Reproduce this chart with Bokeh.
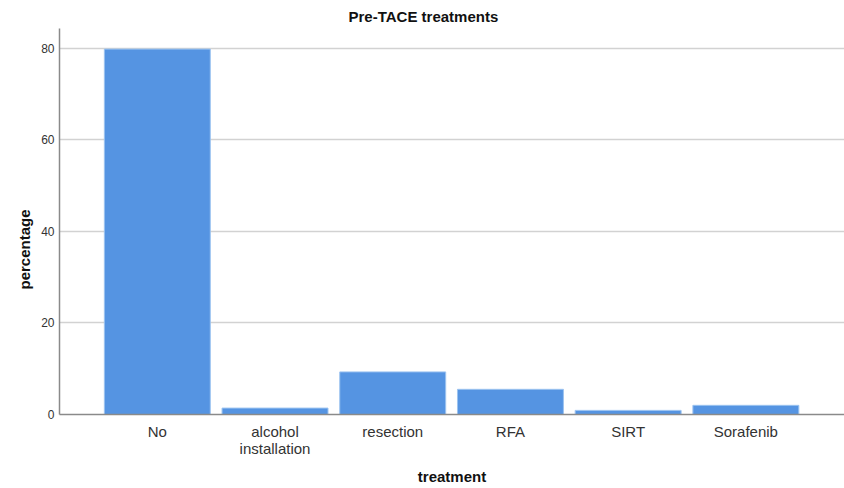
from bokeh.plotting import figure
from bokeh.models import Range1d, FixedTicker, Title
from bokeh.embed import file_html
from bokeh.resources import INLINE

# ---- data ----
categories = ["No", "alcohol installation", "resection", "RFA", "SIRT", "Sorafenib"]
tick_labels = ["No", "alcohol\ninstallation", "resection", "RFA", "SIRT", "Sorafenib"]
percentages = [79.8, 1.4, 9.3, 5.5, 0.9, 2.0]
y_ticks = [0, 20, 40, 60, 80]

xs = list(range(len(categories)))

FONT = "Liberation Sans"
BAR = "#5594E2"

p = figure(width=844, height=488, output_backend="svg", toolbar_location=None,
           x_range=Range1d(-0.831, 5.838), y_range=Range1d(0, 84.3),
           min_border_left=59, min_border_right=0, min_border_top=28,
           min_border_bottom=74)
p.outline_line_color = None
p.background_fill_color = "white"
p.border_fill_color = "white"

p.vbar(x=xs, top=percentages, width=0.90, bottom=0,
       fill_color=BAR, line_color="#9cc3f0", line_width=1)

# grid
p.xgrid.visible = False
p.ygrid.ticker = FixedTicker(ticks=y_ticks)
p.ygrid.grid_line_color = "#d2d2d2"
p.ygrid.grid_line_width = 1.5

# x axis
xa = p.xaxis[0]
xa.ticker = FixedTicker(ticks=xs)
xa.major_label_overrides = {i: t for i, t in zip(xs, tick_labels)}
xa.major_tick_line_color = None
xa.minor_tick_line_color = None
xa.major_tick_out = 0
xa.axis_line_color = "#8a8a8a"
xa.axis_line_width = 1.5
xa.major_label_text_font = FONT
xa.major_label_text_font_size = "15px"
xa.major_label_text_color = "#333333"
xa.major_label_text_line_height = 1.05
xa.major_label_standoff = 8
xa.axis_label = "treatment"
xa.axis_label_text_font = FONT
xa.axis_label_text_font_style = "bold"
xa.axis_label_text_font_size = "15px"
xa.axis_label_text_color = "#111111"
xa.axis_label_text_line_height = 1.0
xa.axis_label_standoff = 8

# y axis
ya = p.yaxis[0]
ya.ticker = FixedTicker(ticks=y_ticks)
ya.major_tick_line_color = None
ya.minor_tick_line_color = None
ya.major_tick_out = 0
ya.axis_line_color = "#8a8a8a"
ya.axis_line_width = 1.5
ya.major_label_text_font = FONT
ya.major_label_text_font_size = "12px"
ya.major_label_text_color = "#333333"
ya.major_label_standoff = 5

# y axis title (placed as a left-side title)
ytitle = Title(text="percentage", align="left", offset=125,
               text_font=FONT, text_font_style="bold", text_font_size="15px",
               text_color="#111111", standoff=12)
p.add_layout(ytitle, "left")

# main title
p.title = Title(text="Pre-TACE treatments", align="left", offset=289,
                text_font=FONT, text_font_style="bold", text_font_size="15px",
                text_color="#111111", standoff=8)

open("out.html", "w").write(file_html(p, INLINE))
